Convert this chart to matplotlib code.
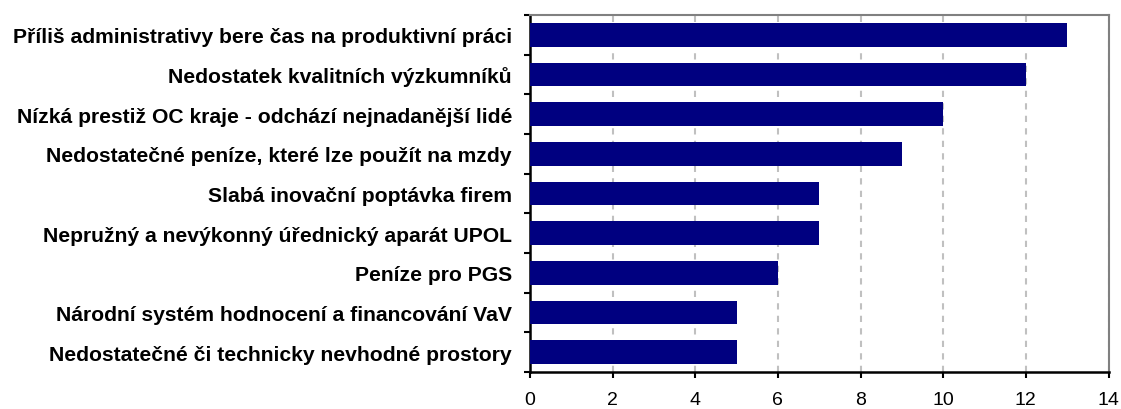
import matplotlib as mpl
mpl.use('Agg')
import matplotlib.pyplot as plt
import numpy as np

categories = [
    'Příliš administrativy bere čas na produktivní práci',
    'Nedostatek kvalitních výzkumníků',
    'Nízká prestiž OC kraje - odchází nejnadanější lidé',
    'Nedostatečné peníze, které lze použít na mzdy',
    'Slabá inovační poptávka firem',
    'Nepružný a nevýkonný úřednický aparát UPOL',
    'Peníze pro PGS',
    'Národní systém hodnocení a financování VaV',
    'Nedostatečné či technicky nevhodné prostory',
]
values = [13, 12, 10, 9, 7, 7, 6, 5, 5]
xticks = [0, 2, 4, 6, 8, 10, 12, 14]

plt.rcParams['font.family'] = ['Liberation Sans', 'DejaVu Sans']

fig = plt.figure(figsize=(11.21, 4.10), dpi=100)
ax = fig.add_axes([530 / 1121, 1 - 373 / 410, (1108.5 - 530) / 1121, (373 - 16) / 410])

n = len(categories)
ypos = np.arange(n)
ax.barh(ypos, values, height=0.59, color='#000080', zorder=3)
ax.set_ylim(n - 0.5, -0.5)
ax.set_xlim(0, 14)

ax.set_yticks(ypos)
ax.set_yticklabels(categories, fontsize=15.2, fontweight='bold')
ax.tick_params(axis='y', which='major', length=0, pad=13)
ax.set_yticks(np.arange(n + 1) - 0.5, minor=True)
ax.tick_params(axis='y', which='minor', length=4, width=1.5, direction='out', color='black')

ax.set_xticks(xticks)
ax.set_xticklabels([str(t) for t in xticks], fontsize=14)
ax.tick_params(axis='x', length=4, width=1.5, direction='out', pad=10, color='black')

ax.grid(axis='x', color='#c0c0c0', linestyle=(0, (3, 3)), linewidth=1.5, zorder=0)

ax.spines['left'].set_color('black')
ax.spines['left'].set_linewidth(1.8)
ax.spines['bottom'].set_color('black')
ax.spines['bottom'].set_linewidth(1.8)
ax.spines['top'].set_color('#808080')
ax.spines['top'].set_linewidth(1.5)
ax.spines['right'].set_color('#808080')
ax.spines['right'].set_linewidth(1.5)

plt.savefig('out.png', dpi=100)
